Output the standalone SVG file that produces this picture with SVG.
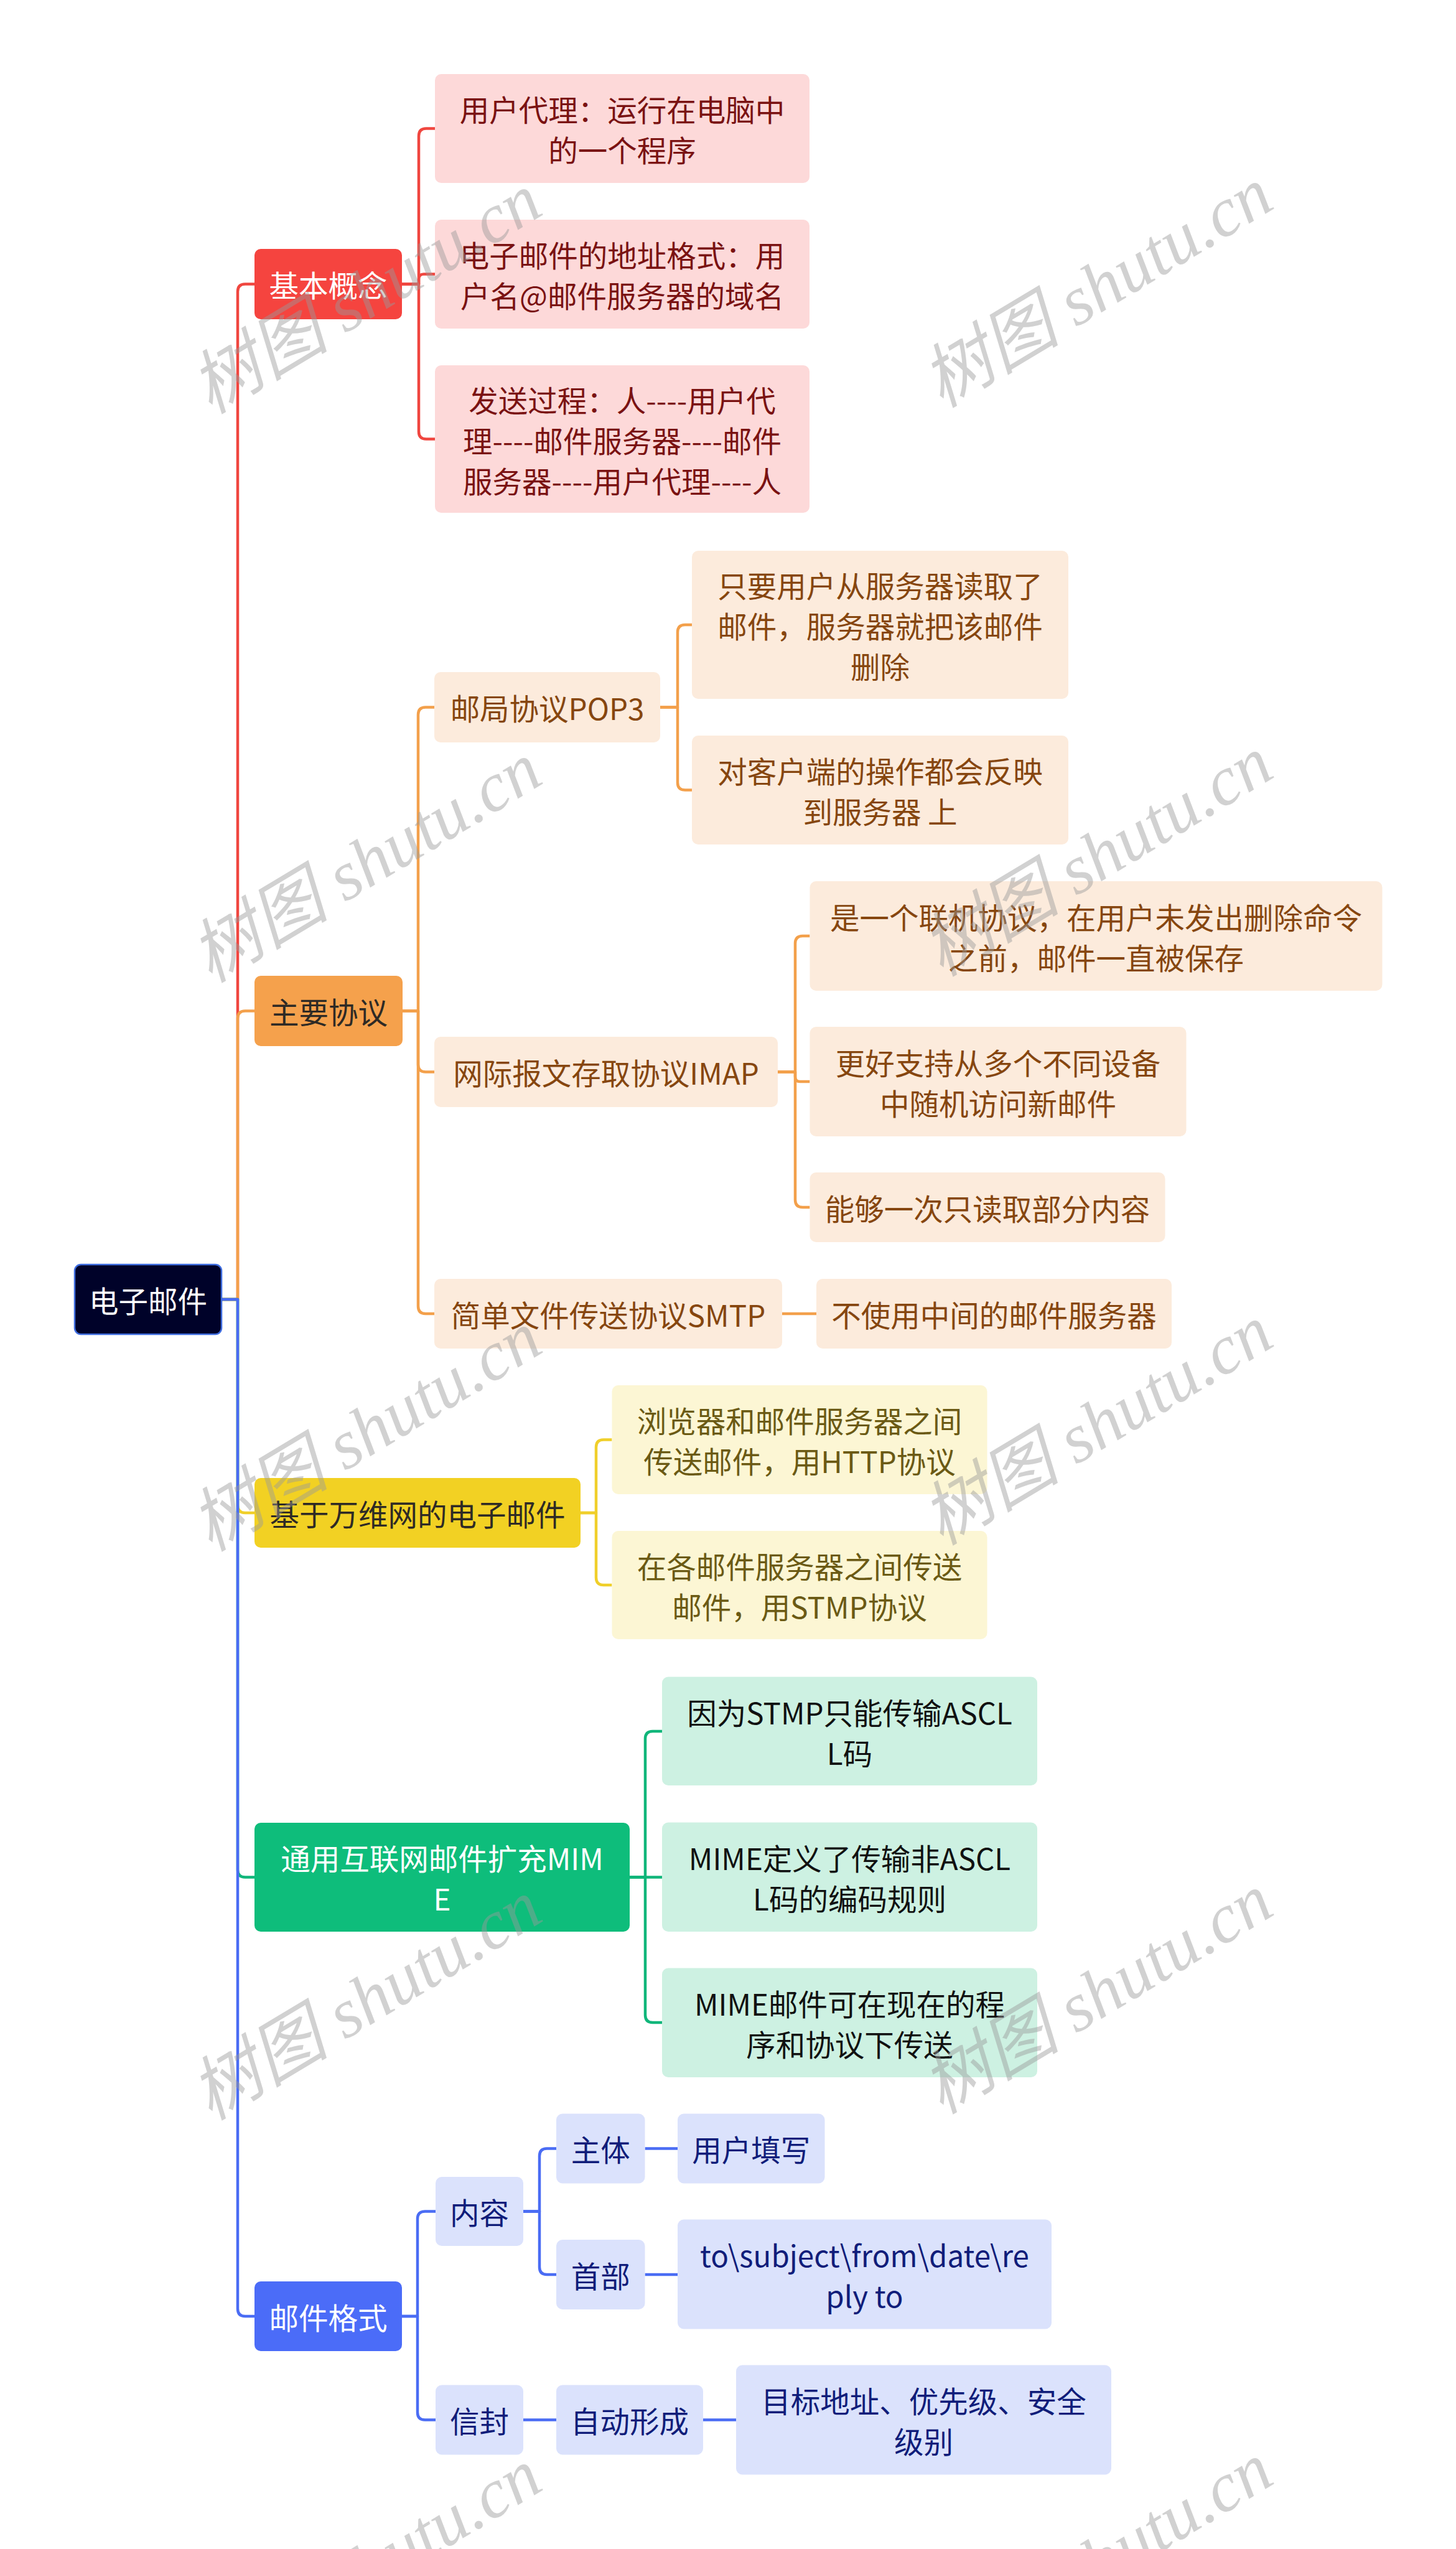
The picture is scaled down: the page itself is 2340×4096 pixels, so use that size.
<svg xmlns="http://www.w3.org/2000/svg" width="2340" height="4096" viewBox="0 0 2340 4096">
<style>
text{font-family:"Noto Sans CJK SC","Noto Sans",sans-serif;font-size:47.5px;text-anchor:middle;dominant-baseline:central}
.c{fill:none;stroke-width:4.5;stroke-linejoin:round;stroke-linecap:butt}
.cr{stroke:#f0463f}.co{stroke:#f3a04b}.cy{stroke:#f0cf2a}.cg{stroke:#10b67a}.cb{stroke:#4a6cf4}
.root{fill:#000229;stroke:#3f6de0;stroke-width:2.5}
.r1{fill:#f5443f}.r2{fill:#fdd9d9}
.o1{fill:#f5a14c}.o2{fill:#fcebdc}
.y1{fill:#f2d123}.y2{fill:#fcf6d4}
.g1{fill:#0ebd7b}.g2{fill:#cdf1e2}
.b1{fill:#4b6cf8}.b2{fill:#dbe2fc}
.tw{fill:#ffffff}.tr{fill:#7a1212}.td{fill:#2e2a25}.to{fill:#86460f}.ty{fill:#6b5a14}.tg{fill:#111111}.tb{fill:#101d7a}
.wm{font-family:"Liberation Serif","Noto Sans CJK SC",serif;font-style:italic;font-size:112px;fill:#9a9a9a;opacity:0.45;text-anchor:middle;dominant-baseline:central}
</style>
<rect width="2340" height="4096" fill="#ffffff"/>
<g id="connectors">
<path class="c cr" d="M356 2088 H382 V468.5 Q382 456.5 394 456.5 H409"/>
<path class="c co" d="M356 2088 H382 V1636.5 Q382 1624.5 394 1624.5 H409"/>
<path class="c cy" d="M356 2088 H382 V2419 Q382 2431 394 2431 H409"/>
<path class="c cg" d="M356 2088 H382 V3004.5 Q382 3016.5 394 3016.5 H409"/>
<path class="c cb" d="M356 2088 H382 V3710 Q382 3722 394 3722 H409"/>
<path class="c cr" d="M646 456.5 H673 V218.5 Q673 206.5 685 206.5 H699"/>
<path class="c cr" d="M646 456.5 H673 V448.5 Q673 440.5 681 440.5 H699"/>
<path class="c cr" d="M646 456.5 H673 V693.5 Q673 705.5 685 705.5 H699"/>
<path class="c co" d="M647 1624.5 H672 V1148.5 Q672 1136.5 684 1136.5 H698"/>
<path class="c co" d="M647 1624.5 H672 V1710.5 Q672 1722.5 684 1722.5 H698"/>
<path class="c co" d="M647 1624.5 H672 V2099 Q672 2111 684 2111 H698"/>
<path class="c co" d="M1061 1136.5 H1089 V1016 Q1089 1004 1101 1004 H1112"/>
<path class="c co" d="M1061 1136.5 H1089 V1257.5 Q1089 1269.5 1101 1269.5 H1112"/>
<path class="c co" d="M1250 1722.5 H1278 V1516 Q1278 1504 1290 1504 H1301.5"/>
<path class="c co" d="M1250 1722.5 H1278 V1730.25 Q1278 1738 1285.75 1738 H1301.5"/>
<path class="c co" d="M1250 1722.5 H1278 V1928 Q1278 1940 1290 1940 H1301.5"/>
<path class="c co" d="M1257 2111 H1312"/>
<path class="c cy" d="M933 2431 H958 V2325.5 Q958 2313.5 970 2313.5 H983.5"/>
<path class="c cy" d="M933 2431 H958 V2535 Q958 2547 970 2547 H983.5"/>
<path class="c cg" d="M1012 3016.5 H1037 V2794 Q1037 2782 1049 2782 H1064"/>
<path class="c cg" d="M1012 3016.5 H1064"/>
<path class="c cg" d="M1012 3016.5 H1037 V3238 Q1037 3250 1049 3250 H1064"/>
<path class="c cb" d="M646 3722 H671 V3565.5 Q671 3553.5 683 3553.5 H700"/>
<path class="c cb" d="M646 3722 H671 V3876.5 Q671 3888.5 683 3888.5 H700"/>
<path class="c cb" d="M841 3553.5 H867 V3464.5 Q867 3452.5 879 3452.5 H894"/>
<path class="c cb" d="M841 3553.5 H867 V3643 Q867 3655 879 3655 H894"/>
<path class="c cb" d="M1036.5 3452.5 H1089"/>
<path class="c cb" d="M1036.5 3655 H1089"/>
<path class="c cb" d="M841 3888.5 H894"/>
<path class="c cb" d="M1130 3888.5 H1183"/>
</g>
<g id="root"><rect class="root" x="120" y="2032" width="236" height="112" rx="10"/><text class="tw" x="238" y="2088">电子邮件</text></g>
<g id="n-basic"><rect class="r1" x="409" y="400" width="237" height="113" rx="10"/><text class="tw" x="527.5" y="456.5">基本概念</text></g>
<g id="n-basic-1"><rect class="r2" x="699" y="119" width="602" height="175" rx="10"/><text class="tr"><tspan x="1000" y="174">用户代理：运行在电脑中</tspan><tspan x="1000" y="239">的一个程序</tspan></text></g>
<g id="n-basic-2"><rect class="r2" x="699" y="353" width="602" height="175" rx="10"/><text class="tr"><tspan x="1000" y="408">电子邮件的地址格式：用</tspan><tspan x="1000" y="473">户名@邮件服务器的域名</tspan></text></g>
<g id="n-basic-3"><rect class="r2" x="699" y="587" width="602" height="237" rx="10"/><text class="tr"><tspan x="1000" y="640.5">发送过程：人----用户代</tspan><tspan x="1000" y="705.5">理----邮件服务器----邮件</tspan><tspan x="1000" y="770.5">服务器----用户代理----人</tspan></text></g>
<g id="n-proto"><rect class="o1" x="409" y="1568" width="238" height="113" rx="10"/><text class="td" x="528" y="1624.5">主要协议</text></g>
<g id="n-pop3"><rect class="o2" x="698" y="1080" width="363" height="113" rx="10"/><text class="to" x="879.5" y="1136.5">邮局协议POP3</text></g>
<g id="n-pop3-1"><rect class="o2" x="1112" y="885" width="605" height="238" rx="10"/><text class="to"><tspan x="1414.5" y="939">只要用户从服务器读取了</tspan><tspan x="1414.5" y="1004">邮件，服务器就把该邮件</tspan><tspan x="1414.5" y="1069">删除</tspan></text></g>
<g id="n-pop3-2"><rect class="o2" x="1112" y="1182" width="605" height="175" rx="10"/><text class="to"><tspan x="1414.5" y="1237">对客户端的操作都会反映</tspan><tspan x="1414.5" y="1302">到服务器 上</tspan></text></g>
<g id="n-imap"><rect class="o2" x="698" y="1666" width="552" height="113" rx="10"/><text class="to" x="974" y="1722.5">网际报文存取协议IMAP</text></g>
<g id="n-imap-1"><rect class="o2" x="1301.5" y="1416" width="920" height="176" rx="10"/><text class="to"><tspan x="1761.5" y="1471.5">是一个联机协议，在用户未发出删除命令</tspan><tspan x="1761.5" y="1536.5">之前，邮件一直被保存</tspan></text></g>
<g id="n-imap-2"><rect class="o2" x="1301.5" y="1650" width="605" height="176" rx="10"/><text class="to"><tspan x="1604" y="1705.5">更好支持从多个不同设备</tspan><tspan x="1604" y="1770.5">中随机访问新邮件</tspan></text></g>
<g id="n-imap-3"><rect class="o2" x="1301.5" y="1884" width="571" height="112" rx="10"/><text class="to" x="1587" y="1940">能够一次只读取部分内容</text></g>
<g id="n-smtp"><rect class="o2" x="698" y="2055" width="559" height="112" rx="10"/><text class="to" x="977.5" y="2111">简单文件传送协议SMTP</text></g>
<g id="n-smtp-1"><rect class="o2" x="1312" y="2055" width="571" height="112" rx="10"/><text class="to" x="1597.5" y="2111">不使用中间的邮件服务器</text></g>
<g id="n-web"><rect class="y1" x="409" y="2375" width="524" height="112" rx="10"/><text class="td" x="671" y="2431">基于万维网的电子邮件</text></g>
<g id="n-web-1"><rect class="y2" x="983.5" y="2226" width="603" height="175" rx="10"/><text class="ty"><tspan x="1285" y="2281">浏览器和邮件服务器之间</tspan><tspan x="1285" y="2346">传送邮件，用HTTP协议</tspan></text></g>
<g id="n-web-2"><rect class="y2" x="983.5" y="2460" width="603" height="174" rx="10"/><text class="ty"><tspan x="1285" y="2514.5">在各邮件服务器之间传送</tspan><tspan x="1285" y="2579.5">邮件，用STMP协议</tspan></text></g>
<g id="n-mime"><rect class="g1" x="409" y="2929" width="603" height="175" rx="10"/><text class="tw"><tspan x="710.5" y="2984">通用互联网邮件扩充MIM</tspan><tspan x="710.5" y="3049">E</tspan></text></g>
<g id="n-mime-1"><rect class="g2" x="1064" y="2694.5" width="603" height="174.5" rx="10"/><text class="tg"><tspan x="1365.5" y="2749.5">因为STMP只能传输ASCL</tspan><tspan x="1365.5" y="2814.5">L码</tspan></text></g>
<g id="n-mime-2"><rect class="g2" x="1064" y="2928.5" width="603" height="175.5" rx="10"/><text class="tg"><tspan x="1365.5" y="2983.5">MIME定义了传输非ASCL</tspan><tspan x="1365.5" y="3048.5">L码的编码规则</tspan></text></g>
<g id="n-mime-3"><rect class="g2" x="1064" y="3162.5" width="603" height="175.5" rx="10"/><text class="tg"><tspan x="1365.5" y="3217.5">MIME邮件可在现在的程</tspan><tspan x="1365.5" y="3282.5">序和协议下传送</tspan></text></g>
<g id="n-format"><rect class="b1" x="409" y="3666" width="237" height="112" rx="10"/><text class="tw" x="527.5" y="3722">邮件格式</text></g>
<g id="n-content"><rect class="b2" x="700" y="3498" width="141" height="111" rx="10"/><text class="tb" x="770.5" y="3553.5">内容</text></g>
<g id="n-body"><rect class="b2" x="894" y="3396.5" width="142.5" height="112" rx="10"/><text class="tb" x="965.25" y="3452.5">主体</text></g>
<g id="n-body-1"><rect class="b2" x="1089" y="3396.5" width="236.5" height="112" rx="10"/><text class="tb" x="1207.25" y="3452.5">用户填写</text></g>
<g id="n-header"><rect class="b2" x="894" y="3599" width="142.5" height="112" rx="10"/><text class="tb" x="965.25" y="3655">首部</text></g>
<g id="n-header-1"><rect class="b2" x="1089" y="3566.5" width="601" height="176" rx="10"/><text class="tb"><tspan x="1389.5" y="3622">to\subject\from\date\re</tspan><tspan x="1389.5" y="3687">ply to</tspan></text></g>
<g id="n-envelope"><rect class="b2" x="700" y="3832.5" width="141" height="112" rx="10"/><text class="tb" x="770.5" y="3888.5">信封</text></g>
<g id="n-auto"><rect class="b2" x="894" y="3832.5" width="236" height="112" rx="10"/><text class="tb" x="1012" y="3888.5">自动形成</text></g>
<g id="n-auto-1"><rect class="b2" x="1183" y="3800.5" width="603" height="176" rx="10"/><text class="tb"><tspan x="1484.5" y="3856">目标地址、优先级、安全</tspan><tspan x="1484.5" y="3921">级别</tspan></text></g>
<g id="watermarks">
<text class="wm" transform="translate(588 472) rotate(-31)">树图 shutu.cn</text>
<text class="wm" transform="translate(1763 462) rotate(-31)">树图 shutu.cn</text>
<text class="wm" transform="translate(588 1386) rotate(-31)">树图 shutu.cn</text>
<text class="wm" transform="translate(1763 1376) rotate(-31)">树图 shutu.cn</text>
<text class="wm" transform="translate(588 2300) rotate(-31)">树图 shutu.cn</text>
<text class="wm" transform="translate(1763 2290) rotate(-31)">树图 shutu.cn</text>
<text class="wm" transform="translate(588 3214) rotate(-31)">树图 shutu.cn</text>
<text class="wm" transform="translate(1763 3204) rotate(-31)">树图 shutu.cn</text>
<text class="wm" transform="translate(588 4128) rotate(-31)">树图 shutu.cn</text>
<text class="wm" transform="translate(1763 4118) rotate(-31)">树图 shutu.cn</text>
</g>
</svg>
